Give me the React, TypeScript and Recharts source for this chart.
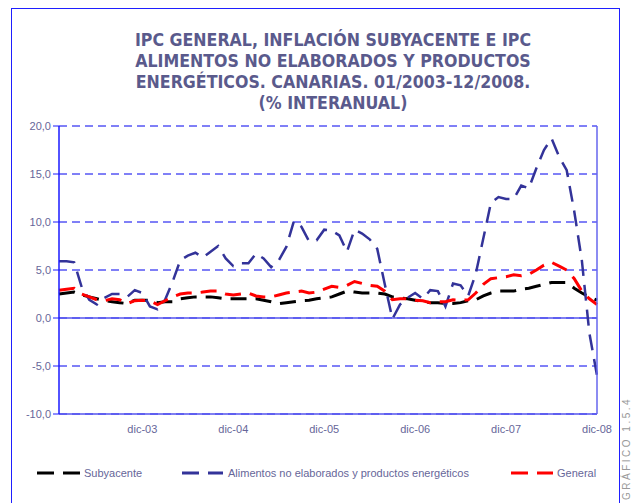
import React from 'react';
import {
  LineChart,
  Line,
  XAxis,
  YAxis,
  CartesianGrid,
  ReferenceLine
} from 'recharts';

// categorías mensuales 01/2003 - 12/2008
const meses = ['ene', 'feb', 'mar', 'abr', 'may', 'jun', 'jul', 'ago', 'sep', 'oct', 'nov', 'dic'];
const anios = ['03', '04', '05', '06', '07', '08'];
const categorias = anios.flatMap((a) => meses.map((m) => `${m}-${a}`));
const etiquetasX = ['dic-03', 'dic-04', 'dic-05', 'dic-06', 'dic-07', 'dic-08'];
const ticksY = [-10, -5, 0, 5, 10, 15, 20];

const subyacente = [
  2.5, 2.6, 2.7, 2.4, 2.2, 2.0, 1.8, 1.7, 1.6, 1.5, 1.85, 1.85,
  1.85, 1.6, 1.7, 1.7, 2.0, 2.1, 2.2, 2.2, 2.2, 2.1, 2.0, 2.0,
  2.0, 2.0, 2.0, 1.85, 1.7, 1.5, 1.6, 1.7, 1.8, 1.85, 2.0, 2.1,
  2.2, 2.5, 2.8, 2.7, 2.6, 2.6, 2.6, 2.5, 2.2, 2.1, 2.0, 1.85,
  1.7, 1.6, 1.6, 1.5, 1.5, 1.6, 1.8, 1.9, 2.3, 2.6, 2.8, 2.8,
  2.8, 3.0, 3.1, 3.3, 3.5, 3.7, 3.7, 3.7, 3.1, 2.6, 2.2, 1.85
];

const alimentos = [
  5.9, 5.9, 5.8, 3.2, 1.9, 1.4, 2.1, 2.5, 2.5, 2.2, 2.9, 2.6,
  1.2, 0.9, 1.9, 3.8, 6.0, 6.5, 6.8, 6.3, 6.9, 7.5, 6.2, 5.4,
  5.7, 5.7, 6.7, 6.2, 5.3, 6.0, 7.4, 10.1, 9.5, 8.0, 8.1, 9.2,
  9.1, 8.6, 6.9, 9.2, 8.8, 8.2, 7.2, 3.5, -0.1, 1.4, 2.1, 2.6,
  2.0, 2.9, 2.8, 1.2, 3.6, 3.4, 2.3, 4.6, 8.3, 12.0, 12.6, 12.4,
  12.4, 13.8, 13.5, 15.6, 17.5, 18.7, 16.8, 15.4, 11.1, 6.0, -1.6, -6.0
];

const general = [
  2.9, 3.0, 3.1, 2.5, 2.2, 1.9, 1.8, 2.0, 1.9, 1.5, 1.8, 1.85,
  1.8, 1.4, 1.8, 2.2, 2.5, 2.6, 2.6, 2.7, 2.8, 2.8, 2.5, 2.4,
  2.5, 2.6, 2.3, 2.2, 2.2, 2.4, 2.6, 2.7, 2.8, 2.6, 2.7, 3.0,
  3.3, 3.2, 3.4, 3.8, 3.6, 3.4, 3.3, 2.8, 1.9, 2.0, 2.0, 1.85,
  1.8, 1.6, 1.7, 1.7, 1.9, 1.85, 1.9, 2.6, 3.5, 4.1, 4.2, 4.3,
  4.5, 4.4, 4.55, 5.0, 5.5, 5.8, 5.4, 5.0, 4.1, 2.8, 2.0, 1.4
];

const datos = categorias.map((mes, i) => ({
  mes,
  subyacente: subyacente[i],
  alimentos: alimentos[i],
  general: general[i]
}));

const tituloLineas = [
  'IPC GENERAL, INFLACIÓN SUBYACENTE E IPC',
  'ALIMENTOS NO ELABORADOS Y PRODUCTOS',
  'ENERGÉTICOS. CANARIAS. 01/2003-12/2008.',
  '(% INTERANUAL)'
];

const textoGris = '#666699';
const azulEje = '#1a1aff';
const dash = '16 9';

const leyenda = [
  { nombre: 'Subyacente', color: '#000000', x1: 37, x2: 81, texto: 84 },
  { nombre: 'Alimentos no elaborados y productos energéticos', color: '#333399', x1: 182, x2: 223, texto: 228 },
  { nombre: 'General', color: '#ff0000', x1: 511, x2: 553, texto: 557 }
];

export default function App() {
  return (
    <div
      style={{
        position: 'absolute',
        left: 0,
        top: 0,
        width: 632,
        height: 503,
        overflow: 'hidden',
        background: '#fff',
        fontFamily: '"Liberation Sans", Arial, sans-serif'
      }}
    >
      {/* marco exterior */}
      <div
        style={{
          position: 'absolute',
          left: 11,
          top: 8,
          width: 607,
          height: 520,
          border: '1.5px solid #1f1fff'
        }}
      />

      <div
        style={{
          position: 'absolute',
          left: 33,
          top: 30,
          width: 600,
          textAlign: 'center',
          fontFamily: '"DejaVu Sans Condensed", "DejaVu Sans", sans-serif',
          fontSize: 17.6,
          fontWeight: 'bold',
          lineHeight: '21px',
          color: '#5a5a8c'
        }}
      >
        {tituloLineas.map((l) => (
          <div key={l}>{l}</div>
        ))}
      </div>

      <div style={{ position: 'absolute', left: 0, top: 0 }}>
        <LineChart
          width={632}
          height={503}
          data={datos}
          margin={{ top: 126, right: 34, left: 14, bottom: 59 }}
        >
          <CartesianGrid vertical={false} stroke="#0000ee" strokeDasharray="8 5" />
          <XAxis
            dataKey="mes"
            ticks={etiquetasX}
            interval={0}
            tickLine={false}
            axisLine={{ stroke: '#5555ee', strokeWidth: 1.5 }}
            tick={{ fontSize: 11, fill: textoGris }}
            tickMargin={5}
            height={30}
          />
          <YAxis
            domain={[-10, 20]}
            ticks={ticksY}
            interval={0}
            width={45}
            tick={{ fontSize: 11, fill: textoGris }}
            tickLine={{ stroke: azulEje }}
            axisLine={{ stroke: azulEje, strokeWidth: 1.5 }}
            tickFormatter={(v) => v.toFixed(1).replace('.', ',')}
          />
          <YAxis
            yAxisId="derecha"
            orientation="right"
            domain={[-10, 20]}
            width={1}
            tick={false}
            tickLine={false}
            axisLine={{ stroke: '#6666ee', strokeWidth: 1.5 }}
          />
          <ReferenceLine y={0} stroke="#5555ee" strokeWidth={1.5} />

          <Line
            dataKey="subyacente"
            name="Subyacente"
            type="linear"
            stroke="#000000"
            strokeWidth={3}
            strokeDasharray={dash}
            dot={false}
            isAnimationActive={false}
          />
          <Line
            dataKey="alimentos"
            name="Alimentos no elaborados y productos energéticos"
            type="linear"
            stroke="#333399"
            strokeWidth={2.5}
            strokeDasharray={dash}
            dot={false}
            isAnimationActive={false}
          />
          <Line
            dataKey="general"
            name="General"
            type="linear"
            stroke="#ff0000"
            strokeWidth={3}
            strokeDasharray={dash}
            dot={false}
            isAnimationActive={false}
          />
        </LineChart>
      </div>

      {/* leyenda */}
      <svg style={{ position: 'absolute', left: 0, top: 0 }} width={632} height={503}>
        {leyenda.map((it) => (
          <line
            key={it.nombre}
            x1={it.x1}
            x2={it.x2}
            y1={473}
            y2={473}
            stroke={it.color}
            strokeWidth={3}
            strokeDasharray="17 9"
          />
        ))}
        {leyenda.map((it) => (
          <text
            key={it.nombre + '-t'}
            x={it.texto}
            y={477}
            fontSize={11}
            fill={textoGris}
            fontFamily='"Liberation Sans", Arial, sans-serif'
          >
            {it.nombre}
          </text>
        ))}
        <text
          x={630}
          y={500}
          transform="rotate(-90 630 500)"
          fontSize={10}
          letterSpacing={2.5}
          fill="#999999"
          fontFamily='"Liberation Sans", Arial, sans-serif'
        >
          GRÁFICO 1.5.4
        </text>
      </svg>
    </div>
  );
}
